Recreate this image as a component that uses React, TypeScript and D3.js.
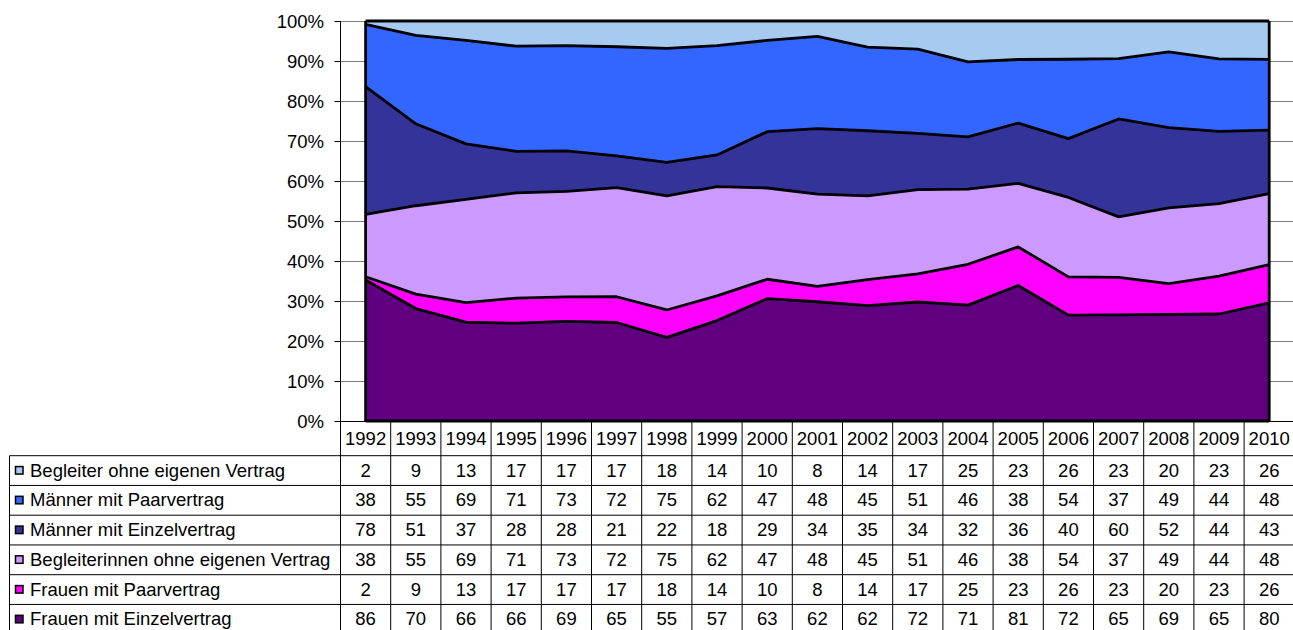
import React from "react";
import * as d3 from "d3";

const years = [1992,1993,1994,1995,1996,1997,1998,1999,2000,2001,2002,2003,2004,2005,2006,2007,2008,2009,2010];
const begleiter = [2,9,13,17,17,17,18,14,10,8,14,17,25,23,26,23,20,23,26];
const maennerPaar = [38,55,69,71,73,72,75,62,47,48,45,51,46,38,54,37,49,44,48];
const maennerEinzel = [78,51,37,28,28,21,22,18,29,34,35,34,32,36,40,60,52,44,43];
const begleiterinnen = [38,55,69,71,73,72,75,62,47,48,45,51,46,38,54,37,49,44,48];
const frauenPaar = [2,9,13,17,17,17,18,14,10,8,14,17,25,23,26,23,20,23,26];
const frauenEinzel = [86,70,66,66,69,65,55,57,63,62,62,72,71,81,72,65,69,65,80];
const yTicks = [0,0.1,0.2,0.3,0.4,0.5,0.6,0.7,0.8,0.9,1];

// table order (top to bottom)
const seriesTable = [
  { key: "begleiter", name: "Begleiter ohne eigenen Vertrag", color: "#A6CAF0", values: begleiter },
  { key: "maennerPaar", name: "Männer mit Paarvertrag", color: "#3366FF", values: maennerPaar },
  { key: "maennerEinzel", name: "Männer mit Einzelvertrag", color: "#333399", values: maennerEinzel },
  { key: "begleiterinnen", name: "Begleiterinnen ohne eigenen Vertrag", color: "#CC99FF", values: begleiterinnen },
  { key: "frauenPaar", name: "Frauen mit Paarvertrag", color: "#FF00FF", values: frauenPaar },
  { key: "frauenEinzel", name: "Frauen mit Einzelvertrag", color: "#600080", values: frauenEinzel },
];

const W = 1293, H = 630;
const FONT = "'Liberation Sans', Arial, sans-serif";
const FS = 18.5;

export default function App() {
  const left = 340.5, top = 21, bottom = 421;
  const colW = 50.2;
  const x = d3.scaleBand<number>().domain(years).range([left, left + years.length * colW]).padding(0);
  const xc = (yr: number) => (x(yr) as number) + x.bandwidth() / 2;
  const y = d3.scaleLinear().domain([0, 1]).range([bottom, top]);

  const stackOrder = [...seriesTable].reverse();
  const rows = years.map((yr, i) => {
    const o: any = { year: yr };
    stackOrder.forEach(s => { o[s.key] = s.values[i]; });
    return o;
  });
  const stacked = d3.stack<any>().keys(stackOrder.map(s => s.key)).offset(d3.stackOffsetExpand)(rows);
  const area = d3.area<any>().x((d: any) => xc(d.data.year)).y0((d: any) => y(d[0])).y1((d: any) => y(d[1]));
  const topLine = d3.line<any>().x((d: any) => xc(d.data.year)).y((d: any) => y(d[1]));

  const headerBottom = 455.7;
  const rowH = 29.75;
  const tableLeft = 9.5;
  const tableRight = W + 5;

  return (
    <svg width={W} height={H} style={{ position: "absolute", left: 0, top: 0, background: "#fff" }} fontFamily={FONT} fontSize={FS}>
      {/* gridlines */}
      {yTicks.map(t => (
        <g key={t}>
          <line x1={left} x2={tableRight} y1={Math.round(y(t)) + 0.5} y2={Math.round(y(t)) + 0.5} stroke={t === 0 ? "#000" : "#808080"} strokeWidth={1} />
          <line x1={left - 6} x2={left} y1={Math.round(y(t)) + 0.5} y2={Math.round(y(t)) + 0.5} stroke="#000" strokeWidth={1} />
          <text x={324} y={y(t) + 6.6} textAnchor="end" fill="#000">{Math.round(t * 100) + "%"}</text>
        </g>
      ))}
      {/* areas */}
      {stacked.map((layer, li) => (
        <path key={layer.key} d={area(layer) as string} fill={stackOrder[li].color} stroke="none" />
      ))}
      {stacked.map((layer) => (
        <path key={layer.key + "l"} d={topLine(layer) as string} fill="none" stroke="#000" strokeWidth={2.8} strokeLinejoin="round" />
      ))}
      {/* area outline edges */}
      <line x1={xc(years[0])} x2={xc(years[0])} y1={y(0)} y2={y(1)} stroke="#000" strokeWidth={2.8} />
      <line x1={xc(years[years.length - 1])} x2={xc(years[years.length - 1])} y1={y(0)} y2={y(1)} stroke="#000" strokeWidth={2.8} />
      <line x1={xc(years[0])} x2={xc(years[years.length - 1])} y1={y(0)} y2={y(0)} stroke="#000" strokeWidth={2.8} />
      {/* y axis */}
      <line x1={left} x2={left} y1={top} y2={H} stroke="#000" strokeWidth={1} />
      {/* table */}
      {years.map((yr, i) => (
        <g key={yr}>
          <line x1={left + (i + 1) * colW} x2={left + (i + 1) * colW} y1={bottom} y2={H} stroke="#000" strokeWidth={1} />
          <text x={xc(yr)} y={445} textAnchor="middle" fill="#000">{yr}</text>
        </g>
      ))}
      <line x1={tableLeft} x2={tableLeft} y1={headerBottom} y2={H} stroke="#000" strokeWidth={1} />
      {seriesTable.map((s, r) => {
        const ry = headerBottom + r * rowH;
        const cy = ry + rowH / 2;
        return (
          <g key={s.key}>
            <line x1={tableLeft} x2={tableRight} y1={ry} y2={ry} stroke="#000" strokeWidth={1} />
            <rect x={15.5} y={cy - 4} width={7.5} height={7.5} fill={s.color} stroke="#000" strokeWidth={1.5} />
            <text x={30} y={cy + 6} fill="#000">{s.name}</text>
            {s.values.map((v, i) => (
              <text key={i} x={xc(years[i])} y={cy + 6} textAnchor="middle" fill="#000">{v}</text>
            ))}
          </g>
        );
      })}
    </svg>
  );
}
